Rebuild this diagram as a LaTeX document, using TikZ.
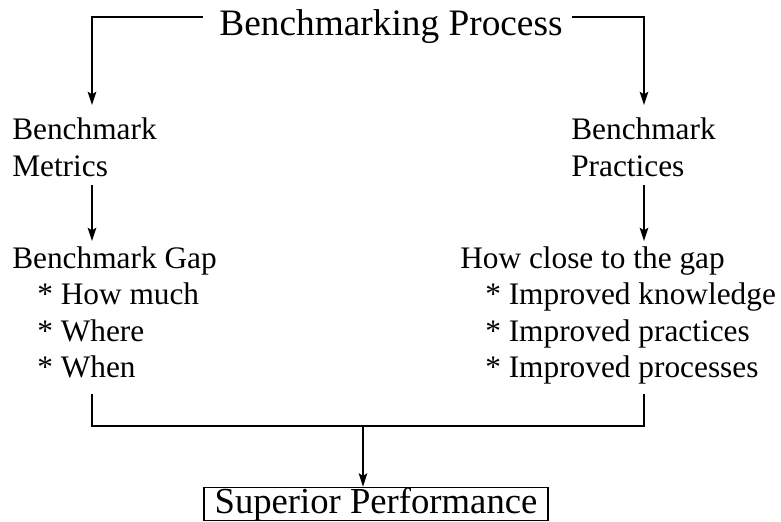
\documentclass[tikz,border=0pt]{standalone}
\usepackage{fontspec}
\setmainfont{Liberation Serif}
\usetikzlibrary{arrows.meta}
\tikzset{every picture/.style={x=0.75pt,y=-0.75pt}}
\tikzset{edge/.style={-{Stealth[length=10pt,width=6.5pt,inset=2pt]},line width=0.9pt}}
\tikzset{wire/.style={line width=0.9pt}}
\tikzset{entry/.style={anchor=base west,inner sep=0pt,font=\fontsize{23.5}{28}\selectfont}}
\tikzset{heading/.style={anchor=base,inner sep=0pt,font=\fontsize{28}{34}\selectfont}}
\tikzset{outcome/.style={draw,line width=0.9pt,inner sep=0pt,minimum width=258pt,minimum height=24pt,font=\fontsize{27.5}{33}\selectfont}}

\begin{document}
\begin{tikzpicture}
\useasboundingbox (0,0) rectangle (781,521);

\node [heading] (proc) at (391,36) {Benchmarking Process};

% left branch: metrics
\node [entry] (met1) at (12,139) {Benchmark};
\node [entry] (met2) at (12,176) {Metrics};
\node [entry] (gap) at (12,268) {Benchmark Gap};
\node [entry] (gap1) at (37,304) {* How much};
\node [entry] (gap2) at (37,341) {* Where};
\node [entry] (gap3) at (37,377) {* When};

% right branch: practices
\node [entry] (prc1) at (571,139) {Benchmark};
\node [entry] (prc2) at (571,176) {Practices};
\node [entry] (cls) at (460,268) {How close to the gap};
\node [entry] (cls1) at (485,304) {* Improved knowledge};
\node [entry] (cls2) at (485,341) {* Improved practices};
\node [entry] (cls3) at (485,377) {* Improved processes};

\node [outcome] (sup) at (376,504) {Superior Performance};

\coordinate (pl) at (203,17);
\coordinate (pr) at (572,17);
\coordinate (al) at (92,105);
\coordinate (ar) at (644,105);
\draw [edge] (pl) -| (al);
\draw [edge] (pr) -| (ar);

\coordinate (ml) at (92,185);
\coordinate (mr) at (644,185);
\draw [edge] (ml) -- (ml |- 0,241);
\draw [edge] (mr) -- (mr |- 0,241);

\coordinate (bl) at (92,394);
\coordinate (br) at (644,394);
\coordinate (jn) at (363,426);
\draw [wire] (bl) |- (jn) -| (br);
\draw [edge] (jn) -- (jn |- sup.north);
\end{tikzpicture}
\end{document}
